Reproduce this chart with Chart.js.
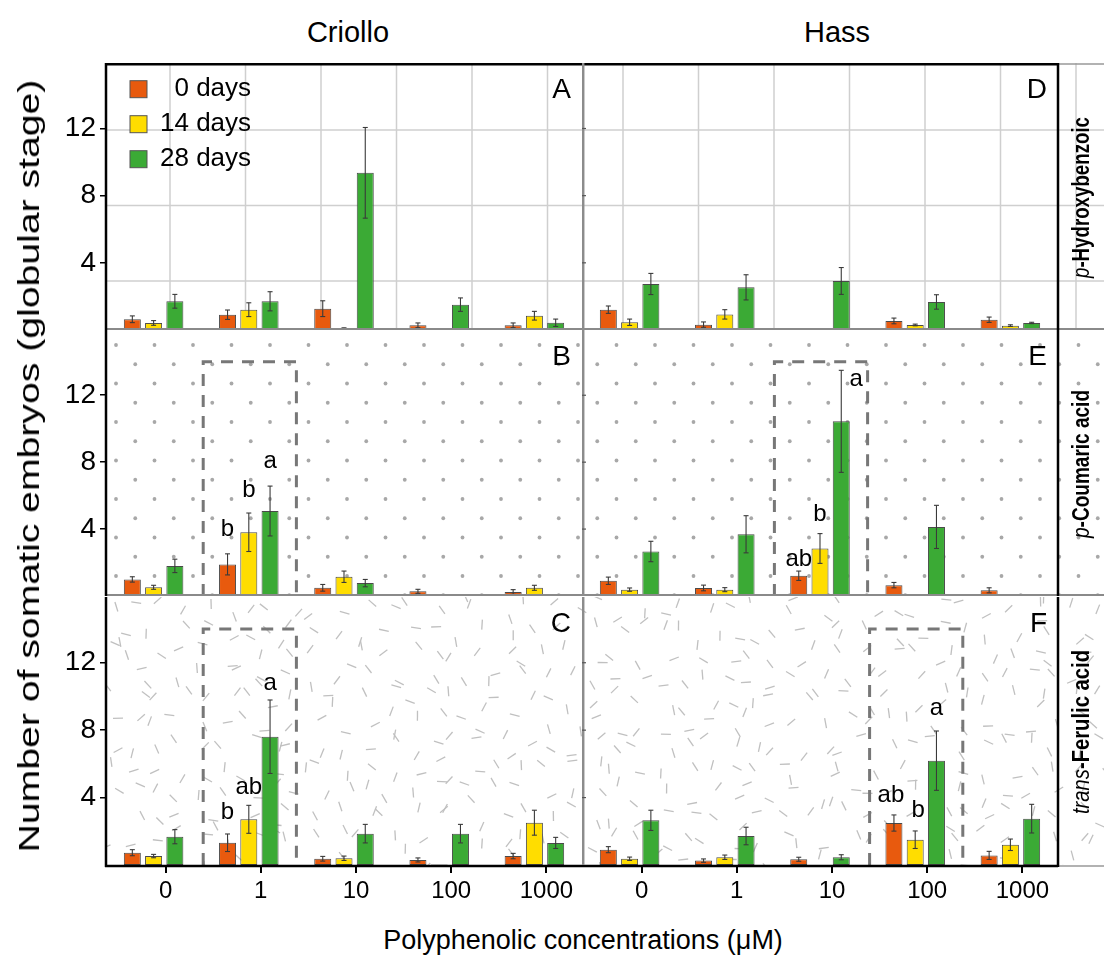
<!DOCTYPE html>
<html>
<head>
<meta charset="utf-8">
<title>Somatic embryos</title>
<script src="https://cdn.jsdelivr.net/npm/chart.js@4.4.1/dist/chart.umd.min.js"></script>
<style>
  body { margin:0; width:1104px; height:958px; background:#fff; position:relative; overflow:hidden;
         font-family:"Liberation Sans", Arial, sans-serif; }
  canvas { position:absolute; }
  .txt { position:absolute; white-space:nowrap; color:#000; line-height:1; z-index:5; transform:translate(-50%,-50%); }
</style>
</head>
<body>
<div class="txt" style="left:348px;top:32px;font-size:29px">Criollo</div>
<div class="txt" style="left:837px;top:32px;font-size:29px">Hass</div>
<div class="txt" id="yTitle" style="left:29px;top:466px;font-size:30px">Number of somatic embryos (globular stage)</div>
<div class="txt" style="left:583px;top:940px;font-size:27px">Polyphenolic concentrations (μM)</div>
<script>
// ---------- data ----------
const concLabels = ["0", "1", "10", "100", "1000"]
const dayLabels = ["0 days", "14 days", "28 days"]
const dayColors = ["#E85A0E", "#FFDD00", "#3BAA35"]
const yTicks = [4, 8, 12]
const stripNames = [
    [["p", "italic"], ["-Hydroxybenzoic", "bold"]],
    [["p", "italic"], ["-Coumaric acid", "bold"]],
    [["trans", "italic"], ["-Ferulic acid", "bold"]]
]

// A - Criollo, p-Hydroxybenzoic
const A_day0 = [0.64, 0.91, 1.27, 0.28, 0.28]
const A_day14 = [0.42, 1.21, 0.10, 0, 0.85]
const A_day28 = [1.71, 1.71, 9.36, 1.51, 0.43]
const A_err0 = [0.20, 0.28, 0.47, 0.14, 0.14]
const A_err14 = [0.14, 0.41, 0.03, 0, 0.26]
const A_err28 = [0.41, 0.57, 2.70, 0.40, 0.22]

// B - Criollo, p-Coumaric acid
const B_day0 = [0.99, 1.89, 0.49, 0.28, 0.24]
const B_day14 = [0.52, 3.81, 1.15, 0, 0.49]
const B_day28 = [1.80, 5.08, 0.77, 0, 0]
const B_err0 = [0.16, 0.63, 0.20, 0.12, 0.14]
const B_err14 = [0.12, 1.15, 0.34, 0, 0.15]
const B_err28 = [0.40, 1.49, 0.22, 0, 0]

// C - Criollo, trans-Ferulic acid
const C_day0 = [0.73, 1.32, 0.37, 0.30, 0.53]
const C_day14 = [0.53, 2.71, 0.40, 0.03, 2.51]
const C_day28 = [1.68, 7.61, 1.86, 1.86, 1.31]
const C_err0 = [0.18, 0.52, 0.14, 0.12, 0.16]
const C_err14 = [0.10, 0.83, 0.13, 0, 0.74]
const C_err28 = [0.42, 2.18, 0.55, 0.55, 0.33]

// D - Hass, p-Hydroxybenzoic
const D_day0 = [1.21, 0.32, 0, 0.54, 0.61]
const D_day14 = [0.46, 0.93, 0.04, 0.30, 0.26]
const D_day28 = [2.74, 2.54, 2.92, 1.67, 0.42]
const D_err0 = [0.22, 0.16, 0, 0.17, 0.16]
const D_err14 = [0.19, 0.28, 0.02, 0.05, 0.05]
const D_err28 = [0.63, 0.75, 0.80, 0.43, 0.04]

// E - Hass, p-Coumaric acid
const E_day0 = [0.91, 0.48, 1.21, 0.65, 0.34]
const E_day14 = [0.38, 0.38, 2.84, 0.05, 0]
const E_day28 = [2.66, 3.69, 10.44, 4.13, 0]
const E_err0 = [0.22, 0.17, 0.28, 0.16, 0.15]
const E_err14 = [0.10, 0.12, 0.89, 0, 0]
const E_err28 = [0.61, 1.11, 3.05, 1.29, 0]

// F - Hass, trans-Ferulic acid
const F_day0 = [0.91, 0.26, 0.34, 2.49, 0.57]
const F_day14 = [0.37, 0.46, 0, 1.50, 1.20]
const F_day28 = [2.65, 1.72, 0.46, 6.19, 2.75]
const F_err0 = [0.18, 0.10, 0.12, 0.48, 0.24]
const F_err14 = [0.10, 0.13, 0, 0.52, 0.34]
const F_err28 = [0.60, 0.52, 0.15, 1.76, 0.85]

// significance letters: [concentration index, series index, letter, level]
const B_letters = [[1, 0, "b", 4.0], [1, 1, "b", 6.3], [1, 2, "a", 8.05]]
const C_letters = [[1, 0, "b", 3.15], [1, 1, "ab", 4.6], [1, 2, "a", 10.8]]
const E_letters = [[2, 0, "ab", 2.2], [2, 1, "b", 4.9], [2, 2, "a", 12.95]]
const F_letters = [[3, 0, "ab", 4.15], [3, 1, "b", 3.26], [3, 2, "a", 9.3]]

/*---------------------------------------- layout ----------------------------------------*/
Chart.defaults.font.family = '"Liberation Sans", Arial, sans-serif'
const FONT = '"Liberation Sans", Arial, sans-serif'
const rowTops = [63, 330, 597]
const rowHeights = [267, 266, 268]
const colLefts = [0, 582]
const colWidths = [582, 522]
const stripLengths = [161, 148, 164]

const panels = [
    {tag: "A", col: 0, row: 0, vals: [A_day0, A_day14, A_day28], errs: [A_err0, A_err14, A_err28], letters: [], legend: true},
    {tag: "B", col: 0, row: 1, vals: [B_day0, B_day14, B_day28], errs: [B_err0, B_err14, B_err28], letters: B_letters, box: 1},
    {tag: "C", col: 0, row: 2, vals: [C_day0, C_day14, C_day28], errs: [C_err0, C_err14, C_err28], letters: C_letters, box: 1},
    {tag: "D", col: 1, row: 0, vals: [D_day0, D_day14, D_day28], errs: [D_err0, D_err14, D_err28], letters: []},
    {tag: "E", col: 1, row: 1, vals: [E_day0, E_day14, E_day28], errs: [E_err0, E_err14, E_err28], letters: E_letters, box: 2, nudge: {"2-2": 15}},
    {tag: "F", col: 1, row: 2, vals: [F_day0, F_day14, F_day28], errs: [F_err0, F_err14, F_err28], letters: F_letters, box: 3, nudge: {"3-0": -3, "3-1": 3}}
]

// small integer hash for the fibre texture of the bottom row
function hash(i, j, k) {
    let h = (i * 374761393 + j * 668265263 + k * 982451653) | 0
    h = Math.imul(h ^ (h >>> 13), 1274126177)
    h ^= h >>> 16
    return (h >>> 0) / 4294967296
}

function line(c, x1, y1, x2, y2) {
    c.beginPath(); c.moveTo(x1, y1); c.lineTo(x2, y2); c.stroke()
}

const deco = {
    id: "deco",
    beforeDraw(chart, args, o) {
        const c = chart.ctx, a = chart.chartArea, W = chart.width
        const x0 = o.col == 0 ? a.left : 0
        c.save()
        c.beginPath(); c.rect(x0, a.top, W - x0, a.bottom - a.top); c.clip()
        if (o.row == 0) {
            c.strokeStyle = "#cfcfcf"; c.lineWidth = 1.5
            for (let gx = 170 - 75.5 * 2; gx < 1110; gx += 75.5) line(c, gx - o.ox, a.top, gx - o.ox, a.bottom)
            for (const gy of [130, 205.5, 281]) line(c, x0, gy - o.oy, W, gy - o.oy)
        }
        if (o.row == 1) {
            c.fillStyle = "#a8a8a8"
            for (let j = 0; 345 + 19.25 * j < 600; j++) {
                const gy = 345 + 19.25 * j
                for (let gx = 116 - 38.5 * 2 + (j % 2 ? 19.25 : 0); gx < 1110; gx += 38.5) {
                    c.beginPath(); c.arc(gx - o.ox, gy - o.oy, 1.9, 0, Math.PI * 2); c.fill()
                }
            }
        }
        if (o.row == 2) {
            c.strokeStyle = "#c0c0c0"; c.lineWidth = 1.3
            const cell = 23
            for (let i = 0; i < 45; i++) for (let j = 0; j < 12; j++) {
                const gx = 100 + i * cell + hash(i, j, 1) * cell
                const gy = 597 + j * cell + hash(i, j, 2) * cell
                const ang = hash(i, j, 3) * Math.PI, len = 10
                const dx = Math.cos(ang) * len / 2, dy = Math.sin(ang) * len / 2
                line(c, gx - o.ox - dx, gy - o.oy - dy, gx - o.ox + dx, gy - o.oy + dy)
            }
        }
        c.restore()
    },
    beforeDatasetsDraw(chart, args, o) {
        if (o.box === undefined) return
        const c = chart.ctx, a = chart.chartArea, xs = chart.scales.x, ys = chart.scales.y
        const cx = xs.getPixelForValue(o.box)
        const half = (xs.getPixelForValue(1) - xs.getPixelForValue(0)) / 2
        const top = ys.getPixelForValue(14)
        c.save()
        c.setLineDash([12, 9]); c.strokeStyle = "#777"; c.lineWidth = 3
        c.beginPath()
        c.moveTo(cx - half + 2, a.bottom); c.lineTo(cx - half + 2, top)
        c.lineTo(cx + half, top); c.lineTo(cx + half, a.bottom)
        c.stroke()
        c.restore()
    },
    afterDatasetsDraw(chart, args, o) {
        const c = chart.ctx, a = chart.chartArea, ys = chart.scales.y
        c.save()
        // error bars
        c.strokeStyle = "#3a3a3a"; c.lineWidth = 1.1
        chart.data.datasets.forEach((ds, i) => {
            chart.getDatasetMeta(i).data.forEach((bar, k) => {
                const e = ds.errs[k]
                if (!e) return
                const yTop = ys.getPixelForValue(ds.data[k] + e)
                const yBot = ys.getPixelForValue(Math.max(ds.data[k] - e, 0))
                line(c, bar.x, yTop, bar.x, yBot)
                line(c, bar.x - 2.5, yTop, bar.x + 2.5, yTop)
                line(c, bar.x - 2.5, yBot, bar.x + 2.5, yBot)
            })
        })
        // letters
        c.fillStyle = "#000"; c.font = "24px " + FONT
        c.textAlign = "center"; c.textBaseline = "middle"
        o.letters.forEach(([cat, ser, txt, lvl]) => {
            const bar = chart.getDatasetMeta(ser).data[cat]
            const dx = (o.nudge && o.nudge[cat + "-" + ser]) || 0
            c.fillText(txt, bar.x + dx, ys.getPixelForValue(lvl))
        })
        // panel tag
        c.font = "28px " + FONT; c.textAlign = "right"
        c.fillText(o.tag, a.right - 11, a.top + 27)
        // legend
        if (o.legend) {
            c.font = "26px " + FONT
            const numEnd = a.left + 54 + c.measureText("14").width
            chart.data.datasets.forEach((ds, i) => {
                const y = a.top + 25.7 + i * 35
                c.fillStyle = ds.backgroundColor
                c.fillRect(a.left + 24, y - 8, 17, 17)
                c.strokeStyle = "#555"; c.lineWidth = 1
                c.strokeRect(a.left + 24, y - 8, 17, 17)
                const parts = ds.label.split(" ")
                c.fillStyle = "#000"
                c.textAlign = "right"; c.fillText(parts[0], numEnd, y)
                c.textAlign = "left"; c.fillText(" " + parts.slice(1).join(" "), numEnd, y)
            })
        }
        c.restore()
    },
    afterDraw(chart, args, o) {
        const c = chart.ctx, a = chart.chartArea, W = chart.width
        const x0 = o.col == 0 ? a.left : 0
        c.save()
        c.lineCap = "butt"
        if (o.row == 0) {
            c.strokeStyle = "#000"; c.lineWidth = 2.5
            line(c, x0 - 1, a.top + 1.25, a.right, a.top + 1.25)
            if (o.col == 1) { c.strokeStyle = "#999"; c.lineWidth = 1.5; line(c, a.right, a.top + 1, W, a.top + 1) }
        }
        if (o.row < 2) {
            c.strokeStyle = "#8a8a8a"; c.lineWidth = 2
            line(c, x0, a.bottom - 1, W, a.bottom - 1)
        } else {
            c.strokeStyle = "#000"; c.lineWidth = 2.5
            line(c, x0 - 1, a.bottom + 1, a.right, a.bottom + 1)
            if (o.col == 1) { c.strokeStyle = "#999"; c.lineWidth = 1.5; line(c, a.right, a.bottom + 1, W, a.bottom + 1) }
        }
        const yb = o.row == 2 ? a.bottom + 2 : a.bottom
        c.strokeStyle = "#000"; c.lineWidth = 2.5
        if (o.col == 0) {
            line(c, a.left, a.top, a.left, yb)
        } else {
            line(c, a.right, a.top, a.right, yb)
            c.strokeStyle = "#8c8c8c"; c.lineWidth = 2.5
            line(c, 1.2, a.top, 1.2, a.bottom)
            // small tick marks on the inner left edge
            c.strokeStyle = "#555"; c.lineWidth = 1.2
            yTicks.forEach(v => { const y = chart.scales.y.getPixelForValue(v); line(c, 0, y, 4, y) })
            // strip label on the right
            const parts = stripNames[o.row]
            c.translate(a.right + 24, (a.top + a.bottom) / 2 + 1)
            c.rotate(-Math.PI / 2)
            c.fillStyle = "#000"; c.textBaseline = "middle"; c.textAlign = "left"
            let total = 0
            parts.forEach(([t, s]) => { c.font = s + " 24px " + FONT; total += c.measureText(t).width })
            c.scale(stripLengths[o.row] / total, 1)
            let x = -total / 2
            parts.forEach(([t, s]) => { c.font = s + " 24px " + FONT; c.fillText(t, x, 0); x += c.measureText(t).width })
        }
        c.restore()
    }
}

/*---------------------------------------- draw the six panels ----------------------------------------*/
panels.forEach(p => {
    const cv = document.createElement("canvas")
    const h = rowHeights[p.row] + (p.row == 2 ? 45 : 0)
    cv.width = colWidths[p.col]; cv.height = h
    cv.style.left = colLefts[p.col] + "px"; cv.style.top = rowTops[p.row] + "px"
    document.body.appendChild(cv)

    const scales = {
        x: {type: "category", display: false},
        y: {
            min: 0, max: 15.9, display: p.col == 0,
            afterBuildTicks: s => { s.ticks = yTicks.map(v => ({value: v})) },
            afterFit: s => { s.width = p.col == 0 ? 106 : 0; s.paddingTop = 0; s.paddingBottom = 0 },
            ticks: {font: {size: 28}, color: "#000", padding: 4},
            grid: {drawOnChartArea: false, tickLength: 6, color: "#000", lineWidth: 1.5},
            border: {display: false}
        }
    }
    if (p.row == 2) {
        // tick marks of the reference sit about 12 px right of the bar groups
        scales.xt = {
            type: "linear", position: "bottom", offset: false, min: -0.5 - 0.126, max: 4.5 - 0.126,
            afterBuildTicks: s => { s.ticks = concLabels.map((l, i) => ({value: i})) },
            afterFit: s => { s.height = 45; s.paddingLeft = 0; s.paddingRight = 0 },
            ticks: {callback: v => concLabels[v], font: {size: 24}, color: "#000", padding: 4, autoSkip: false, maxRotation: 0},
            grid: {offset: false, drawOnChartArea: false, tickLength: 8, color: "#000", lineWidth: 2},
            border: {display: false}
        }
    }

    new Chart(cv.getContext("2d"), {
        type: "bar",
        data: {
            labels: concLabels,
            datasets: p.vals.map((v, i) => ({
                label: dayLabels[i],
                data: v,
                errs: p.errs[i],
                backgroundColor: dayColors[i],
                borderColor: "#4a4a4a",
                borderWidth: ctx => ctx.raw > 0 ? 1 : 0,
                borderSkipped: false,
                categoryPercentage: 0.67,
                barPercentage: 0.8,
                xAxisID: "x",
                yAxisID: "y"
            }))
        },
        options: {
            responsive: false,
            animation: false,
            layout: {padding: {left: 0, right: p.col == 1 ? 46 : 0, top: 0, bottom: 0}},
            scales: scales,
            plugins: {
                legend: {display: false},
                tooltip: {enabled: false},
                deco: {
                    col: p.col, row: p.row, ox: colLefts[p.col], oy: rowTops[p.row],
                    tag: p.tag, letters: p.letters, box: p.box, nudge: p.nudge, legend: !!p.legend
                }
            }
        },
        plugins: [deco]
    })
})

// stretch the y title along its length like the reference
const yt = document.getElementById("yTitle")
yt.style.transform = "translate(-50%,-50%) rotate(-90deg) scaleX(" + (773 / yt.offsetWidth) + ")"
</script>
</body>
</html>
